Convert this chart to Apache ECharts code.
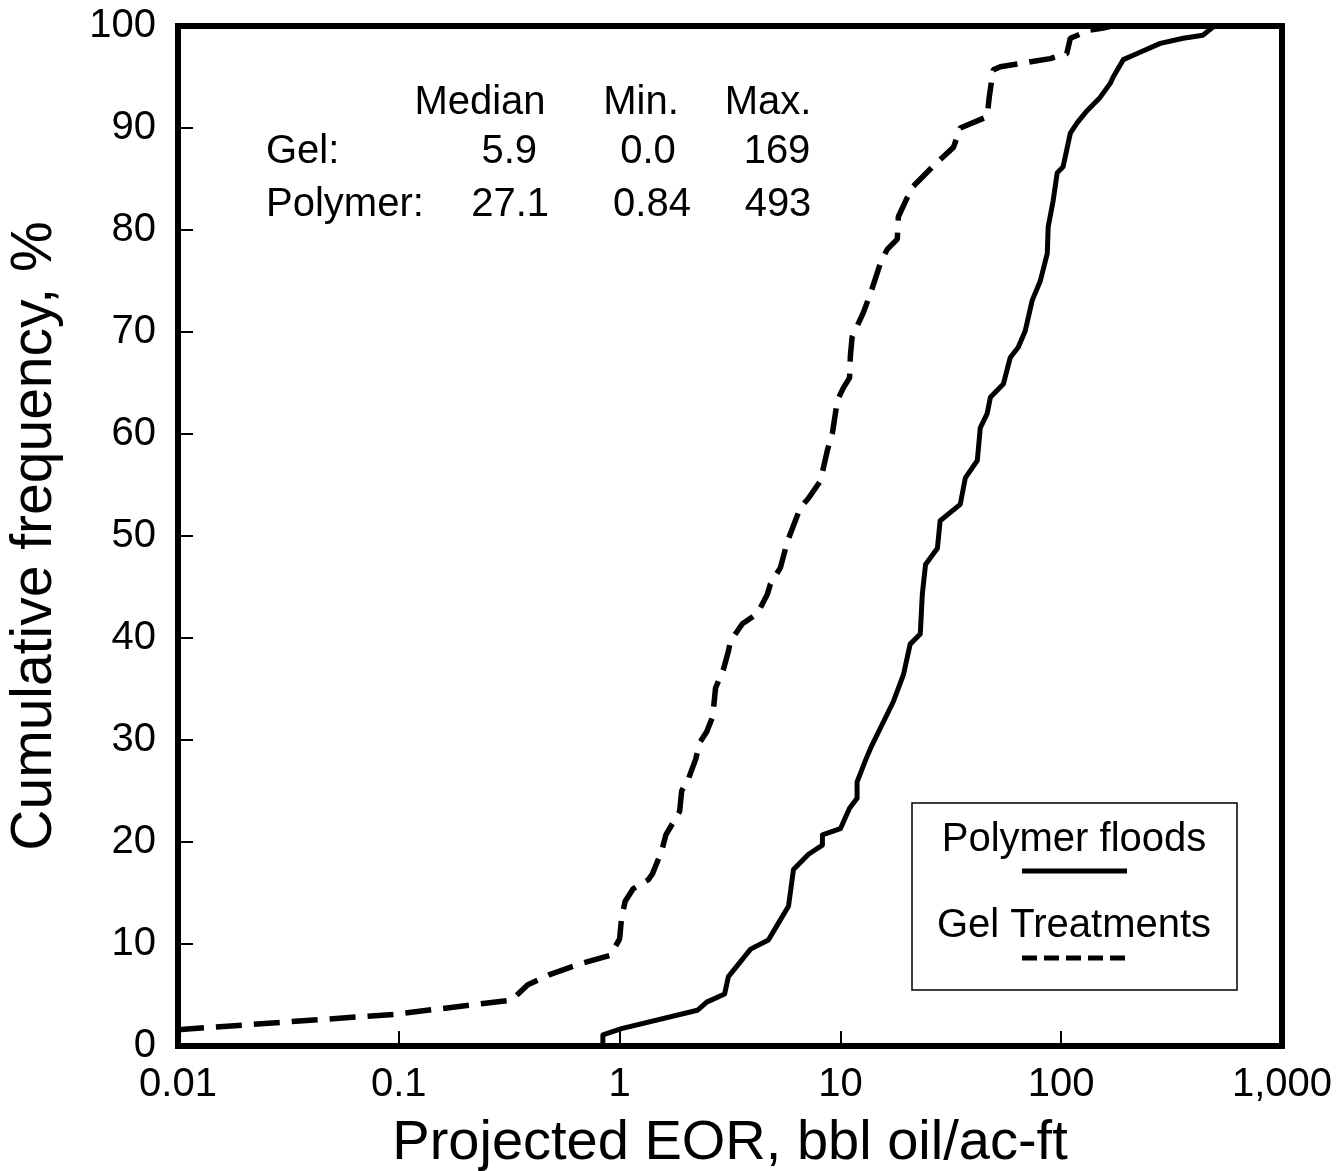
<!DOCTYPE html>
<html>
<head>
<meta charset="utf-8">
<script src="https://cdn.jsdelivr.net/npm/echarts@6/dist/echarts.min.js"></script>
<style>
html,body{margin:0;padding:0;background:#fff;}
#chart{width:1339px;height:1171px;}
</style>
</head>
<body>
<div id="chart"></div>
<script>
// ---- Data ----
const polymerX = [0.84, 0.84, 1.02, 2.25, 2.48, 2.99, 3.11, 3.92, 4.72, 5.19,
  5.82, 6.13, 7.17, 8.29, 8.29, 10.0, 11.0, 11.9, 11.9, 13.1,
  13.7, 17.4, 19.3, 20.7, 23.0, 23.5, 24.3, 27.5, 28.3, 34.9,
  36.8, 41.7, 43.0, 46.2, 47.8, 54.7, 58.8, 63.9, 68.7, 73.9,
  80.4, 86.5, 87.3, 92.0, 95.9, 102, 110, 118, 131, 150,
  167, 172, 191, 221, 281, 357, 439, 493];
const polymerY = [0.3, 1.1, 1.7, 3.5, 4.3, 5.1, 6.8, 9.5, 10.4, 11.9,
  13.7, 17.3, 18.8, 19.7, 20.7, 21.3, 23.3, 24.3, 25.9, 28.2,
  29.2, 33.8, 36.4, 39.4, 40.4, 44.3, 47.2, 48.8, 51.5, 53.1,
  55.7, 57.4, 60.6, 62, 63.6, 64.9, 67.5, 68.5, 70.1, 73.1,
  75, 77.7, 80.3, 82.9, 85.6, 86.2, 89.5, 90.5, 91.7, 93,
  94.4, 95, 96.7, 97.3, 98.3, 98.8, 99.1, 100];

const gelX = [0.01, 0.0949, 0.324, 0.384, 0.482, 0.673, 0.910, 1.0, 1.02, 1.06,
  1.15, 1.35, 1.41, 1.55, 1.62, 1.87, 1.91, 2.05, 2.21, 2.30,
  2.48, 2.64, 2.72, 2.96, 3.11, 3.18, 3.60, 4.21, 4.67, 4.82,
  5.35, 5.76, 6.25, 6.59, 7.17, 8.12, 8.73, 9.20, 9.49, 9.69,
  10.3, 11.0, 11.1, 11.3, 12.7, 13.7, 15.2, 16.3, 18.1, 18.3,
  20.1, 21.2, 26.4, 32.5, 34.9, 46.2, 47.2, 49.2, 53.0, 89.1,
  106, 110, 135, 155, 169];
const gelY = [1.6, 3.1, 4.5, 6.0, 7.0, 8.1, 8.9, 10.5, 12.5, 14.2,
  15.4, 16.3, 16.9, 19.1, 20.7, 23, 25, 26.2, 28.1, 29.7,
  30.8, 32.3, 35.1, 37, 38.7, 39.7, 41.4, 42.4, 44.3, 45.3,
  46.9, 49.5, 51.5, 52.8, 53.7, 55.4, 58.4, 60.1, 62, 63.3,
  64.5, 65.5, 67.7, 69.5, 71.9, 73.8, 76.8, 78.1, 79.1, 81.3,
  83.2, 84.2, 86.3, 88.1, 90, 91.1, 93, 95.7, 96, 96.8,
  97.3, 98.8, 99.6, 99.8, 100];

const xTickValues = [0.01, 0.1, 1, 10, 100, 1000];
const xTickLabels = ['0.01', '0.1', '1', '10', '100', '1,000'];

const statsHeader = ['Median', 'Min.', 'Max.'];
const statsRowNames = ['Gel:', 'Polymer:'];
const gelStats = ['5.9', '0.0', '169'];
const polymerStats = ['27.1', '0.84', '493'];

const seriesNames = ['Polymer floods', 'Gel Treatments'];

// ---- Build chart ----
const FONT = '"Liberation Sans", Arial, Helvetica, sans-serif';
const pair = (xs, ys) => xs.map((x, i) => [x, ys[i]]);

function xLabel(v) {
  const k = Math.round(Math.log10(v));
  const idx = xTickValues.findIndex(t => Math.round(Math.log10(t)) === k);
  return idx >= 0 ? xTickLabels[idx] : '';
}

const chart = echarts.init(document.getElementById('chart'), null, {renderer: 'canvas'});

const txt = (text, x, y, align) => ({
  type: 'text',
  style: {
    text: text, x: x, y: y,
    font: '40px ' + FONT,
    fill: '#000',
    align: align, verticalAlign: 'middle',
    textAlign: align, textVerticalAlign: 'middle'
  },
  z: 100
});

const graphic = [
  // stats table
  txt(statsHeader[0], 480, 103, 'center'),
  txt(statsHeader[1], 641, 103, 'center'),
  txt(statsHeader[2], 768, 103, 'center'),
  txt(statsRowNames[0], 266, 152, 'left'),
  txt(gelStats[0], 537, 152, 'right'),
  txt(gelStats[1], 648, 152, 'center'),
  txt(gelStats[2], 777, 152, 'center'),
  txt(statsRowNames[1], 266, 205, 'left'),
  txt(polymerStats[0], 549, 205, 'right'),
  txt(polymerStats[1], 652, 205, 'center'),
  txt(polymerStats[2], 778, 205, 'center'),
  // legend box
  {
    type: 'rect',
    shape: {x: 912, y: 803, width: 325, height: 187},
    style: {fill: '#fff', stroke: '#000', lineWidth: 1.5},
    z: 90
  },
  txt(seriesNames[0], 1074, 840, 'center'),
  {
    type: 'line',
    shape: {x1: 1022, y1: 871, x2: 1127, y2: 871},
    style: {stroke: '#000', lineWidth: 5},
    z: 100
  },
  txt(seriesNames[1], 1074, 926, 'center'),
  {
    type: 'line',
    shape: {x1: 1022, y1: 958, x2: 1127, y2: 958},
    style: {stroke: '#000', lineWidth: 5, lineDash: [15, 7]},
    z: 100
  }
];

chart.setOption({
  animation: false,
  backgroundColor: '#fff',
  grid: {
    left: 178, top: 26, right: 57, bottom: 125,
    show: true, borderColor: '#000', borderWidth: 6,
    containLabel: false,
    outerBoundsMode: 'none'
  },
  xAxis: {
    type: 'log', logBase: 10, min: 0.01, max: 1000,
    name: 'Projected EOR, bbl oil/ac-ft',
    nameLocation: 'middle', nameGap: 70,
    nameTextStyle: {fontFamily: FONT, fontSize: 56, color: '#000'},
    axisLine: {show: false},
    axisTick: {show: true, inside: true, length: 15, lineStyle: {color: '#000', width: 2}},
    minorTick: {show: false},
    splitLine: {show: false},
    axisLabel: {
      fontFamily: FONT, fontSize: 40, color: '#000', margin: 19,
      formatter: xLabel, showMinLabel: true, showMaxLabel: true
    }
  },
  yAxis: {
    type: 'value', min: 0, max: 100, interval: 10,
    name: 'Cumulative frequency, %',
    nameLocation: 'middle', nameGap: 114, nameRotate: 90,
    nameTextStyle: {fontFamily: FONT, fontSize: 57, color: '#000'},
    axisLine: {show: false},
    axisTick: {show: true, inside: true, length: 15, lineStyle: {color: '#000', width: 2}},
    splitLine: {show: false},
    axisLabel: {fontFamily: FONT, fontSize: 40, color: '#000', margin: 22}
  },
  series: [
    {
      name: seriesNames[0], type: 'line',
      data: pair(polymerX, polymerY),
      showSymbol: false, smooth: false, clip: true,
      lineStyle: {color: '#000', width: 5, join: 'round', cap: 'round'},
      z: 10
    },
    {
      name: seriesNames[1], type: 'line',
      data: pair(gelX, gelY),
      showSymbol: false, smooth: false, clip: true,
      lineStyle: {color: '#000', width: 5.5, type: [26, 12], cap: 'butt'},
      z: 10
    }
  ],
  graphic: graphic
});
</script>
</body>
</html>
